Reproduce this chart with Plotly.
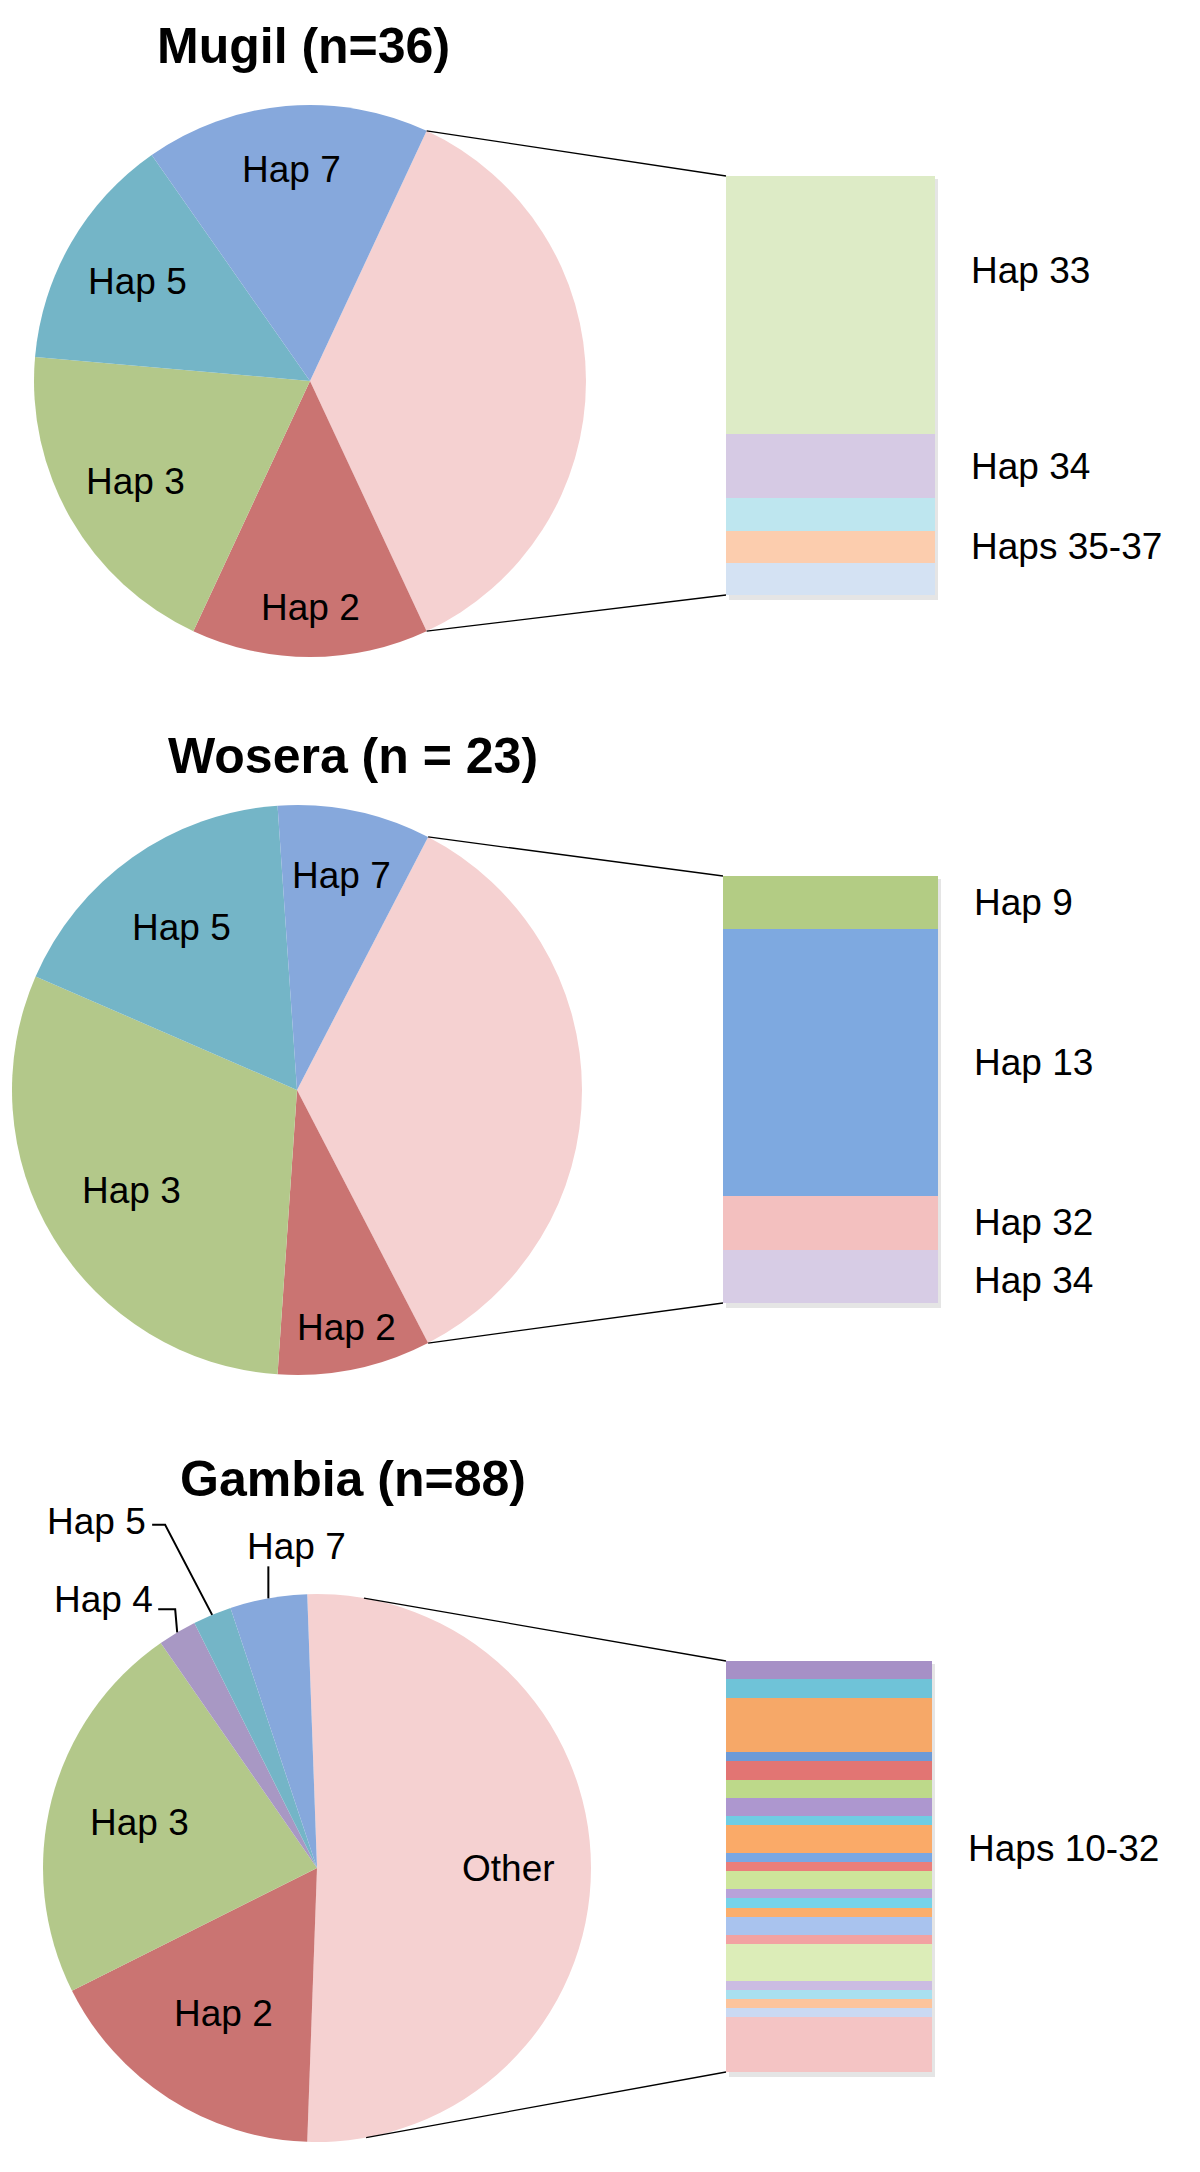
import math
import plotly.graph_objects as go

# ---------------- data ----------------
titles = ["Mugil (n=36)", "Wosera (n = 23)", "Gambia (n=88)"]

mugil_pie_labels = ["Other", "Hap 2", "Hap 3", "Hap 5", "Hap 7"]
mugil_pie_values = [13, 5, 7, 5, 6]
mugil_bar_labels = ["Hap 33", "Hap 34", "Hap 35", "Hap 36", "Hap 37"]
mugil_bar_values = [8, 2, 1, 1, 1]
mugil_bar_groups = [("Hap 33", ["Hap 33"]), ("Hap 34", ["Hap 34"]),
                    ("Haps 35-37", ["Hap 35", "Hap 36", "Hap 37"])]

wosera_pie_labels = ["Other", "Hap 2", "Hap 3", "Hap 5", "Hap 7"]
wosera_pie_values = [8, 2, 7, 4, 2]
wosera_bar_labels = ["Hap 9", "Hap 13", "Hap 32", "Hap 34"]
wosera_bar_values = [1, 5, 1, 1]
wosera_bar_groups = [("Hap 9", ["Hap 9"]), ("Hap 13", ["Hap 13"]),
                     ("Hap 32", ["Hap 32"]), ("Hap 34", ["Hap 34"])]

gambia_pie_labels = ["Other", "Hap 2", "Hap 3", "Hap 4", "Hap 5", "Hap 7"]
gambia_pie_values = [45, 15, 20, 2, 2, 4]
gambia_bar_labels = ["Hap %d" % k for k in range(10, 33)]
gambia_bar_values = [2, 2, 6, 1, 2, 2, 2, 1, 3, 1, 1, 2, 1, 1, 1, 2, 1, 4, 1, 1, 1, 1, 6]
gambia_bar_groups = [("Haps 10-32", gambia_bar_labels)]

# ---------------- styles ----------------
W, H = 1200, 2172
FONT = "Liberation Sans, Arial, Helvetica, sans-serif"
TITLE_SIZE = 50
LABEL_SIZE = 37

PIE_COLORS = {"Other": "#F5D1D1", "Hap 2": "#CA7472", "Hap 3": "#B3C88A",
              "Hap 4": "#A898C4", "Hap 5": "#74B5C7", "Hap 7": "#86A8DC"}
mugil_bar_colors = ["#DDEBC6", "#D6CAE4", "#BEE6EF", "#FCCDAE", "#D4E2F3"]
wosera_bar_colors = ["#B3CC84", "#7EA9E0", "#F3C0BF", "#D7CCE5"]
gambia_bar_colors = ["#A690C6", "#6FC3D8", "#F6A868", "#6D9AD6", "#E27573",
                     "#BDD98A", "#AD97CF", "#6FCDE3", "#FAAA68", "#79A7E3",
                     "#EA7E7A", "#CDE59A", "#B8A2D9", "#76D3E9", "#FBAE6C",
                     "#A9C3EE", "#F2A2A2", "#DCEDB8", "#CBBCE2", "#A9E0EF",
                     "#FCC49C", "#CAD9F2", "#F4C4C4"]


def px(x):
    return x / W


def py(y):
    return 1 - y / H


panels = [
    dict(title=titles[0], title_xy=(303, 46),
         pie_labels=mugil_pie_labels, pie_values=mugil_pie_values,
         center=(310, 381), r=276,
         inside={"Hap 2": 0.82, "Hap 3": 0.73, "Hap 5": 0.72, "Hap 7": 0.77},
         outside={},
         bar_labels=mugil_bar_labels, bar_values=mugil_bar_values,
         bar_colors=mugil_bar_colors, bar_groups=mugil_bar_groups,
         bar_box=(726, 935, 176, 595), group_shift={"Hap 33": 34}),
    dict(title=titles[1], title_xy=(353, 756),
         pie_labels=wosera_pie_labels, pie_values=wosera_pie_values,
         center=(297, 1090), r=285,
         inside={"Hap 2": 0.85, "Hap 3": 0.68, "Hap 5": 0.70, "Hap 7": 0.77},
         outside={},
         bar_labels=wosera_bar_labels, bar_values=wosera_bar_values,
         bar_colors=wosera_bar_colors, bar_groups=wosera_bar_groups,
         bar_box=(723, 938, 876, 1303), group_shift={"Hap 34": -4}),
    dict(title=titles[2], title_xy=(353, 1479),
         pie_labels=gambia_pie_labels, pie_values=gambia_pie_values,
         center=(317, 1868), r=274,
         inside={"Other": 0.70, "Hap 2": 0.63, "Hap 3": 0.67},
         # leader-line styling: path offsets from slice edge, label offset, anchor
         outside={"Hap 4": ([(0, 0), (-2, -23), (-19, -23)], (-22, -33), "right"),
                  "Hap 5": ([(0, 0), (-47, -90), (-60, -90)], (-64, -93), "right"),
                  "Hap 7": ([(0, 0), (0, -32)], (28, -52), "center")},
         bar_labels=gambia_bar_labels, bar_values=gambia_bar_values,
         bar_colors=gambia_bar_colors, bar_groups=gambia_bar_groups,
         bar_box=(726, 932, 1661, 2072), group_shift={"Haps 10-32": 18}),
]

fig = go.Figure()
annotations = []
shapes = []
layout_axes = {}


def circ_point(cx, cy, r, deg):
    a = math.radians(deg)
    return (cx + r * math.sin(a), cy - r * math.cos(a))


for i, p in enumerate(panels):
    cx, cy = p["center"]
    r = p["r"]
    vals = p["pie_values"]
    labs = p["pie_labels"]
    total = sum(vals)
    other_deg = vals[0] / total * 360.0
    rotation = 90.0 - other_deg / 2.0

    fig.add_trace(go.Pie(
        labels=labs, values=vals, sort=False, direction="clockwise",
        rotation=rotation,
        domain=dict(x=[px(cx - r), px(cx + r)], y=[py(cy + r), py(cy - r)]),
        marker=dict(colors=[PIE_COLORS[l] for l in labs], line=dict(width=0)),
        textinfo="none", showlegend=False,
        hovertemplate="%{label}: %{value}<extra></extra>"))

    # title
    tx, ty = p["title_xy"]
    annotations.append(dict(text="<b>%s</b>" % p["title"], x=px(tx), y=py(ty),
                            xref="paper", yref="paper", showarrow=False,
                            xanchor="center", yanchor="middle",
                            font=dict(family=FONT, size=TITLE_SIZE, color="black")))

    # slice labels
    cum = 0.0
    for lab, v in zip(labs, vals):
        a0 = rotation + cum / total * 360.0
        a1 = rotation + (cum + v) / total * 360.0
        cum += v
        mid = (a0 + a1) / 2.0
        if lab in p["inside"]:
            lx, ly = circ_point(cx, cy, r * p["inside"][lab], mid)
            annotations.append(dict(text=lab, x=px(lx), y=py(ly), xref="paper",
                                    yref="paper", showarrow=False,
                                    xanchor="center", yanchor="middle",
                                    font=dict(family=FONT, size=LABEL_SIZE, color="black")))
        elif lab in p["outside"]:
            path_off, lab_off, anchor = p["outside"][lab]
            ex, ey = circ_point(cx, cy, r, mid)
            pts = [(ex + dx, ey + dy) for dx, dy in path_off]
            path = "M " + " L ".join("%f,%f" % (px(x), py(y)) for x, y in pts)
            shapes.append(dict(type="path", path=path, xref="paper", yref="paper",
                               line=dict(color="black", width=2)))
            annotations.append(dict(text=lab, x=px(ex + lab_off[0]), y=py(ey + lab_off[1]),
                                    xref="paper", yref="paper", showarrow=False,
                                    xanchor=anchor, yanchor="middle",
                                    font=dict(family=FONT, size=LABEL_SIZE, color="black")))

    # stacked bar
    bx0, bx1, by0, by1 = p["bar_box"]
    xa = "x" if i == 0 else "x%d" % (i + 1)
    ya = "y" if i == 0 else "y%d" % (i + 1)
    btotal = sum(p["bar_values"])
    for lab, v, col in zip(p["bar_labels"], p["bar_values"], p["bar_colors"]):
        fig.add_trace(go.Bar(x=[0], y=[v], name=lab, width=1, xaxis=xa, yaxis=ya,
                             marker=dict(color=col, line=dict(width=0)),
                             showlegend=False,
                             hovertemplate=lab + ": %{y}<extra></extra>"))
    layout_axes["xaxis" if i == 0 else "xaxis%d" % (i + 1)] = dict(
        domain=[px(bx0), px(bx1)], range=[-0.5, 0.5], visible=False,
        anchor=ya, fixedrange=True)
    layout_axes["yaxis" if i == 0 else "yaxis%d" % (i + 1)] = dict(
        domain=[py(by1), py(by0)], range=[btotal, 0], visible=False,
        anchor=xa, fixedrange=True)

    # soft shadow under bar
    shapes.append(dict(type="rect", xref="paper", yref="paper", layer="below",
                       x0=px(bx0 + 3), x1=px(bx1 + 3), y0=py(by1 + 5), y1=py(by0 + 3),
                       fillcolor="rgba(0,0,0,0.10)", line=dict(width=0)))

    # bar labels
    pos = {}
    c = 0.0
    for lab, v in zip(p["bar_labels"], p["bar_values"]):
        pos[lab] = (c, c + v)
        c += v
    for gtext, members in p["bar_groups"]:
        lo = min(pos[m][0] for m in members)
        hi = max(pos[m][1] for m in members)
        annotations.append(dict(text=gtext, x=px(bx1 + 34), y=(lo + hi) / 2.0,
                                xref="paper", yref=ya, showarrow=False,
                                xanchor="left", yanchor="middle",
                                yshift=p["group_shift"].get(gtext, 0),
                                font=dict(family=FONT, size=LABEL_SIZE, color="black")))

    # connector lines from the "Other" slice to the bar corners
    b_top = circ_point(cx, cy, r, rotation)
    b_bot = circ_point(cx, cy, r, rotation + other_deg)
    for B, P in ((b_top, (bx0, by0)), (b_bot, (bx0, by1))):
        dot = (P[0] - B[0]) * (B[0] - cx) + (P[1] - B[1]) * (B[1] - cy)
        start = B
        if dot < 0:
            vx, vy = P[0] - cx, P[1] - cy
            d = math.hypot(vx, vy)
            alpha = math.acos(r / d)
            base = math.atan2(vy, vx)
            cands = [(cx + r * math.cos(base + s * alpha), cy + r * math.sin(base + s * alpha))
                     for s in (1, -1)]
            start = min(cands, key=lambda t: math.hypot(t[0] - B[0], t[1] - B[1]))
        shapes.append(dict(type="line", xref="paper", yref="paper",
                           x0=px(start[0]), y0=py(start[1]), x1=px(P[0]), y1=py(P[1]),
                           line=dict(color="black", width=1.3)))

fig.update_layout(
    width=W, height=H, margin=dict(l=0, r=0, t=0, b=0),
    paper_bgcolor="white", plot_bgcolor="rgba(0,0,0,0)",
    barmode="stack", bargap=0, showlegend=False,
    annotations=annotations, shapes=shapes,
    font=dict(family=FONT),
    **layout_axes)

fig.write_html("out.html", config={"displayModeBar": False},
               post_script="document.body.style.margin='0';document.body.style.overflow='hidden';")
